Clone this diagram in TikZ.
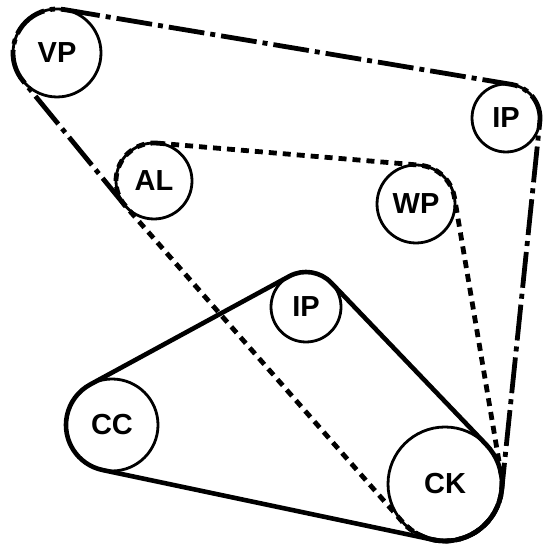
\documentclass[tikz,border=0pt]{standalone}
\usepackage{fontspec}
\newfontfamily\labfont{Liberation Sans}
\usetikzlibrary{calc}
\tikzset{
  pulley/.style={circle, draw, line width=1.4pt, inner sep=0pt,
    minimum size={2*#1*0.5pt}, font=\labfont\bfseries\fontsize{14.5}{18}\selectfont},
  solidbelt/.style={line width=2.3pt, line join=round},
  dashbelt/.style={line width=2.4pt, dash pattern=on 4pt off 3pt},
  dashdotbelt/.style={line width=2.4pt, dash pattern=on 18pt off 3pt on 2.5pt off 3pt},
}
\begin{document}
\begin{tikzpicture}[x=0.5pt,y=0.5pt]
\useasboundingbox (0,0) rectangle (542,549);
% pulleys
\node[pulley=44] (VP)  at (57,496)  {VP};
\node[pulley=38] (AL)  at (154,368) {AL};
\node[pulley=34] (IPa) at (506,431) {IP};
\node[pulley=39] (WP)  at (416,345) {WP};
\node[pulley=46] (CC)  at (112,124) {CC};
\node[pulley=35] (IPb) at (306,242) {IP};
\node[pulley=57] (CK)  at (445,65)  {CK};
% dash-dot belt: VP, IP, CK, AL (the AL--CK run is shared with the dashed belt)
\draw[dashdotbelt] ([shift={(80.5:44)}]VP.center)
  -- ([shift={(80.5:34)}]IPa.center) arc[start angle=80.5, end angle=-5.9, radius=34]
  -- ([shift={(-5.9:57)}]CK.center) arc[start angle=-5.9, end angle=-138.75, radius=57]
  ([shift={(221.25:38)}]AL.center) arc[start angle=221.25, end angle=219.3, radius=38]
  -- ([shift={(219.3:44)}]VP.center) arc[start angle=219.3, end angle=80.5, radius=44];
% dashed belt: AL, WP, CK
\draw[dashbelt] ([shift={(85.2:38)}]AL.center)
  -- ([shift={(85.2:39)}]WP.center) arc[start angle=85.2, end angle=9.58, radius=39]
  -- ([shift={(9.58:57)}]CK.center) arc[start angle=9.58, end angle=-138.75, radius=57]
  -- ([shift={(221.25:38)}]AL.center) arc[start angle=221.25, end angle=85.2, radius=38];
% solid belt: CC, IP, CK
\draw[solidbelt] ([shift={(118.5:46)}]CC.center)
  -- ([shift={(118.5:35)}]IPb.center) arc[start angle=118.5, end angle=43.75, radius=35]
  -- ([shift={(43.75:57)}]CK.center) arc[start angle=43.75, end angle=-101.9, radius=57]
  -- ([shift={(258.1:46)}]CC.center) arc[start angle=258.1, end angle=118.5, radius=46]
  -- cycle;
\end{tikzpicture}
\end{document}
